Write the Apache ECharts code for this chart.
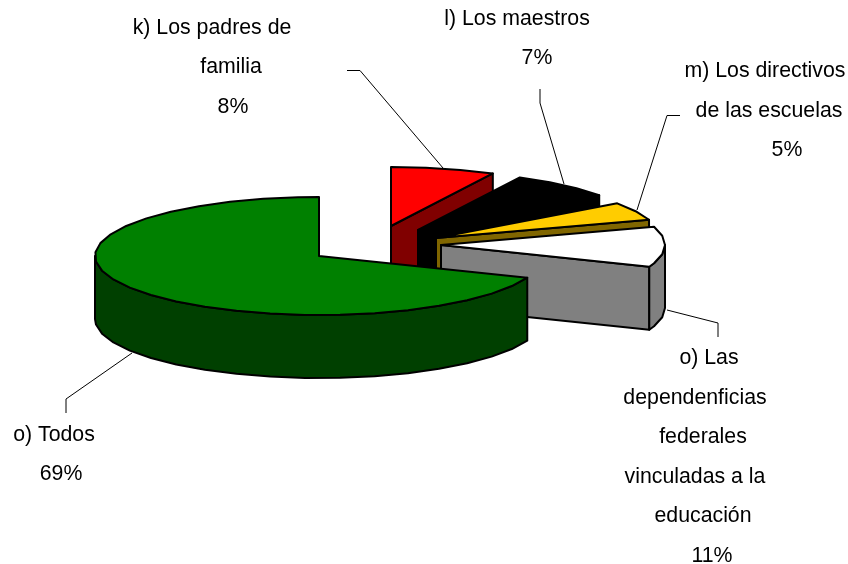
<!DOCTYPE html>
<html>
<head>
<meta charset="utf-8">
<title>Pie 3D</title>
<script src="https://cdn.jsdelivr.net/npm/echarts@6/dist/echarts.min.js"></script>
<style>
    html, body { margin: 0; padding: 0; background: #fff; }
    #mychart { width: 848px; height: 564px; }
</style>
</head>
<body>
<div id="mychart"></div>
<script>
"use strict";
// values, 8% and 7% split the same wedge nearly evenly
const categories = ['k', 'l', 'm', 'o_dep', 'o_todos'];
const values = [7.51, 7.49, 5, 11, 69];
const labelLines = [
    ['k) Los padres de', 'familia'],
    ['l) Los maestros'],
    ['m) Los directivos', 'de las escuelas'],
    ['o) Las', 'dependenficias', 'federales', 'vinculadas a la', 'educación'],
    ['o) Todos']
];
const topColors = ['#ff0000', '#000000', '#ffcc00', '#ffffff', '#008000'];
const sideColors = ['#800000', '#000000', '#806600', '#808080', '#004000'];

// layout of the fake 3d pie
const center = [319, 256];
const radiusX = 224;
const radiusY = 59;
const depth = 63;
const explode = [[72, -30], [99, -26], [117, -18], [122, -11], [0, 0]];
const stepDeg = 9;
// x centre and y centre of each text line, last one is the percent
const labelPos = [
    [[212, 29], [231, 68], [233, 108]],
    [[517, 20], [537, 59]],
    [[765, 72], [769, 112], [787, 151]],
    [[709, 359], [695, 399], [703, 438], [695, 478], [703, 517], [712, 557]],
    [[54, 436], [61, 475]]
];
const leaders = [
    [[347, 70.5], [360, 70.5], [443, 168]],
    [[540, 89], [540, 103], [564, 184]],
    [[680, 115.5], [667, 115.5], [637, 210]],
    [[667, 310], [718, 323], [718, 337]],
    [[132, 353], [66, 399], [66, 413]]
];

const total = values.reduce((a, b) => a + b, 0);

function sliceAngles(index) {
    let start = 0;
    for (let i = 0; i < index; i++) {
        start += values[i];
    }
    return [start / total * 360, (start + values[index]) / total * 360];
}
function rimPoint(c, deg, dy) {
    const r = deg * Math.PI / 180;
    return [c[0] + radiusX * Math.sin(r), c[1] - radiusY * Math.cos(r) + (dy || 0)];
}
function rim(c, from, to, dy) {
    const pts = [];
    let a = from;
    while (a < to) {
        pts.push(rimPoint(c, a, dy));
        a += stepDeg;
    }
    pts.push(rimPoint(c, to, dy));
    return pts;
}
function face(points, fill) {
    return {
        type: 'polygon',
        shape: { points: points },
        style: { fill: fill, stroke: '#000', lineWidth: 2, lineJoin: 'round' }
    };
}
function renderSlice(params, api) {
    const i = params.dataIndex;
    const c = [center[0] + explode[i][0], center[1] + explode[i][1]];
    const angles = sliceAngles(i);
    const a0 = angles[0];
    const a1 = angles[1];
    const side = sideColors[i];
    const children = [];
    const below = [c[0], c[1] + depth];
    if (a1 < 180) {
        children.push(face([c, rimPoint(c, a1), rimPoint(c, a1, depth), below], side));
    }
    if (a0 > 180) {
        children.push(face([c, rimPoint(c, a0), rimPoint(c, a0, depth), below], side));
    }
    const from = Math.max(a0, 90);
    const to = Math.min(a1, 270);
    if (from < to) {
        children.push(face(rim(c, from, to).concat(rim(c, from, to, depth).reverse()), side));
    }
    children.push(face([c].concat(rim(c, a0, a1)), topColors[i]));
    return { type: 'group', children: children };
}

const graphics = [];
leaders.forEach((pts) => {
    graphics.push({
        type: 'polyline',
        silent: true,
        z: 1,
        shape: { points: pts },
        style: { stroke: '#000', lineWidth: 1, fill: null }
    });
});
categories.forEach((name, i) => {
    const lines = labelLines[i].concat([Math.round(values[i] / total * 100) + '%']);
    lines.forEach((line, j) => {
        graphics.push({
            type: 'text',
            silent: true,
            x: labelPos[i][j][0],
            y: labelPos[i][j][1] - 0.5,
            style: {
                text: line,
                fill: '#000',
                font: '21.3px "Liberation Sans", Arial, sans-serif',
                align: 'center',
                verticalAlign: 'middle'
            }
        });
    });
});

const myChart = echarts.init(document.getElementById('mychart'));
myChart.setOption({
    backgroundColor: '#fff',
    animation: false,
    graphic: graphics,
    series: [
        {
            type: 'custom',
            coordinateSystem: 'none',
            silent: true,
            z: 2,
            data: values.map((v, i) => ({ name: categories[i], value: [v] })),
            renderItem: renderSlice
        }
    ]
});
</script>
</body>
</html>
